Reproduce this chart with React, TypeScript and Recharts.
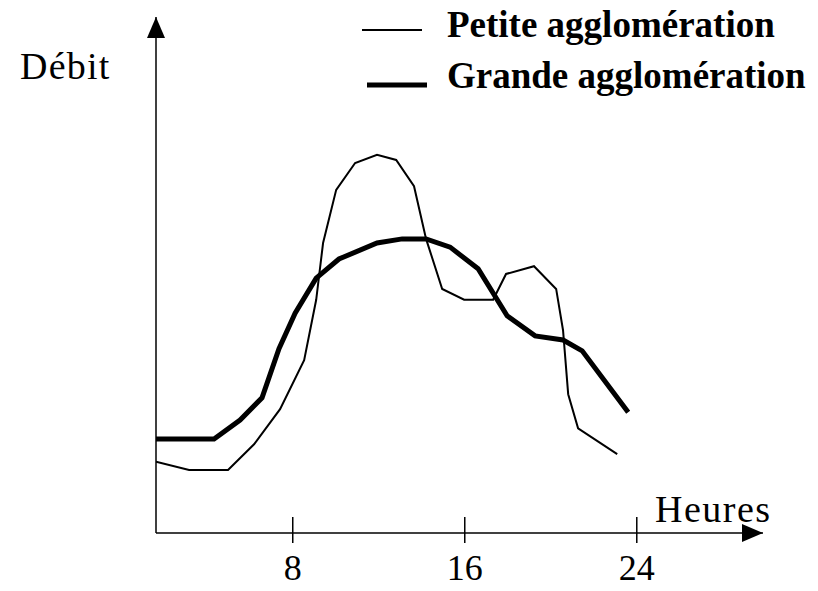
import React from 'react';
import { LineChart, Line, XAxis, YAxis, Legend } from 'recharts';

// Hours and flow (arbitrary units, 0..100 = axis height)
const petiteHours = [1.64, 3.18, 4.99, 6.2, 7.41, 8.53, 9.09, 9.41, 10.02, 10.9, 11.92, 12.81, 13.64, 14.2, 14.95, 15.97, 17.32, 17.92, 19.22, 20.25, 20.57, 20.81, 21.27, 23.09];
const petiteDebit = [13.8, 12.2, 12.2, 17.2, 24.0, 33.5, 45.2, 56.2, 66.5, 71.7, 73.3, 72.3, 67.2, 57.0, 47.3, 45.2, 45.2, 50.2, 51.7, 47.3, 39.3, 26.9, 20.3, 15.3];

const grandeHours = [1.64, 4.34, 5.55, 6.57, 7.36, 8.11, 9.09, 10.15, 11.92, 13.09, 14.2, 15.32, 16.62, 17.97, 19.27, 20.57, 21.46, 23.6];
const grandeDebit = [18.2, 18.2, 21.9, 26.2, 35.7, 42.6, 49.4, 53.1, 56.2, 57.0, 57.0, 55.4, 51.2, 42.1, 38.2, 37.4, 35.3, 23.4];

const seriesNames = ['Petite agglomération', 'Grande agglomération'];
const seriesWidths = [2, 5];

const xTicks = [8, 16, 24];
const xDomain = [1.64, 29.87];
const yDomain = [0, 100];

const xTitle = 'Heures';
const yTitle = 'Débit';

const petiteData = petiteHours.map((h, i) => ({ h, v: petiteDebit[i] }));
const grandeData = grandeHours.map((h, i) => ({ h, v: grandeDebit[i] }));

const serifStyle: React.CSSProperties = { fontFamily: 'Liberation Serif, Tinos, Times New Roman, DejaVu Serif, serif' };

const Tick = (props: any) => {
  const { x, y, payload } = props;
  return (
    <g>
      <line x1={x} x2={x} y1={y - 16} y2={y + 10} stroke="#000" strokeWidth={1.5} />
      <text x={x} y={y + 47} textAnchor="middle" style={{ ...serifStyle, fontSize: 36 }} fill="#000">
        {payload.value}
      </text>
    </g>
  );
};

const LegendContent = () => {
  return (
    <svg width={460} height={100} style={{ display: 'block' }}>
      {seriesNames.map((name, i) => {
        const ly = 30 + 55 * i;
        const ty = 37 + 51 * i;
        const lx = 12 + 5 * i;
        return (
          <g key={i}>
            <line x1={lx} x2={lx + 60} y1={ly} y2={ly} stroke="#000" strokeWidth={seriesWidths[i]} />
            <text x={97} y={ty} style={{ ...serifStyle, fontSize: 37, fontWeight: 'bold' }} fill="#000">
              {name}
            </text>
          </g>
        );
      })}
    </svg>
  );
};

export default function App() {
  return (
    <div style={{ position: 'absolute', left: 0, top: 0, width: 818, height: 591, background: '#fff' }}>
      <LineChart width={818} height={591} margin={{ top: 17, right: 55, bottom: 28, left: 146 }}>
        <defs>
          <marker
            id="arrowHead"
            markerUnits="userSpaceOnUse"
            markerWidth={22}
            markerHeight={20}
            viewBox="0 0 22 20"
            refX={21}
            refY={10}
            orient="auto-start-reverse"
          >
            <path d="M0,1 L21,10 L0,19 Z" fill="#000" />
          </marker>
        </defs>
        <XAxis
          type="number"
          dataKey="h"
          domain={xDomain}
          allowDataOverflow
          ticks={xTicks}
          tick={<Tick />}
          tickLine={false}
          tickSize={0}
          tickMargin={0}
          height={30}
          axisLine={{ stroke: '#000', strokeWidth: 1.5, markerEnd: 'url(#arrowHead)' }}
        />
        <YAxis
          type="number"
          dataKey="v"
          domain={yDomain}
          allowDataOverflow
          tick={false}
          tickLine={false}
          width={10}
          axisLine={{ stroke: '#000', strokeWidth: 1.5, markerStart: 'url(#arrowHead)' }}
        />
        <Legend
          layout="vertical"
          align="center"
          verticalAlign="middle"
          content={<LegendContent />}
          wrapperStyle={{ position: 'absolute', left: 350, top: 0, width: 460, height: 100 }}
        />
        <Line
          data={petiteData}
          dataKey="v"
          name={seriesNames[0]}
          type="linear"
          stroke="#000"
          strokeWidth={seriesWidths[0]}
          dot={false}
          activeDot={false}
          isAnimationActive={false}
        />
        <Line
          data={grandeData}
          dataKey="v"
          name={seriesNames[1]}
          type="linear"
          stroke="#000"
          strokeWidth={seriesWidths[1]}
          dot={false}
          activeDot={false}
          isAnimationActive={false}
        />
        <text x={20} y={79} style={{ ...serifStyle, fontSize: 38, letterSpacing: 1.2 }} fill="#000">
          {yTitle}
        </text>
        <text x={655} y={522} style={{ ...serifStyle, fontSize: 38, letterSpacing: 1.5 }} fill="#000">
          {xTitle}
        </text>
      </LineChart>
    </div>
  );
}
